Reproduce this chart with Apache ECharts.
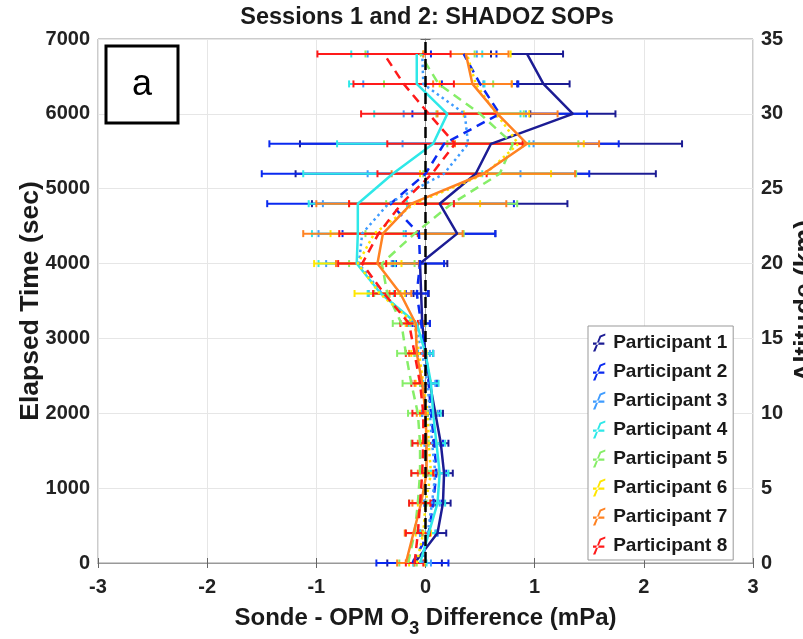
<!DOCTYPE html>
<html><head><meta charset="utf-8">
<script src="https://cdn.jsdelivr.net/npm/echarts@6/dist/echarts.min.js"></script>
<style>html,body{margin:0;padding:0;background:#fff}#c{width:803px;height:639px}</style>
</head><body><div id="c"></div>
<script>
// Elapsed time levels (sec)
const elapsedTime = [0,400,800,1200,1600,2000,2400,2800,3200,3600,4000,4400,4800,5200,5600,6000,6400,6800];
// Sonde - OPM O3 difference (mPa), mean per participant
const p1 = [-0.10,0.11,0.16,0.17,0.14,0.09,0.04,0.00,-0.03,-0.04,-0.05,0.29,0.13,0.46,0.60,1.35,1.08,0.93];
const p2 = [-0.12,0.03,0.07,0.10,0.08,0.05,0.03,0.00,-0.04,-0.08,-0.05,-0.06,-0.32,0.00,0.17,0.68,0.50,0.35];
const p3 = [-0.03,0.02,0.06,0.09,0.06,0.04,0.02,-0.03,-0.10,-0.40,-0.61,-0.58,-0.34,0.17,0.39,0.36,-0.02,-0.03];
const p4 = [-0.05,0.03,0.11,0.13,0.10,0.07,0.05,0.00,-0.08,-0.41,-0.63,-0.62,-0.62,-0.30,0.07,0.20,-0.08,-0.08];
const p5 = [-0.16,-0.10,-0.07,-0.05,-0.05,-0.07,-0.13,-0.18,-0.22,-0.35,-0.40,-0.10,0.24,0.68,0.80,0.50,0.12,-0.05];
const p6 = [-0.08,-0.02,0.00,0.05,0.03,0.02,-0.02,-0.06,-0.10,-0.42,-0.62,-0.47,-0.10,0.55,0.85,0.65,0.46,0.38];
const p7 = [-0.18,-0.11,-0.04,0.01,0.01,0.00,-0.03,-0.08,-0.09,-0.23,-0.44,-0.39,-0.13,0.53,0.93,0.66,0.43,0.37];
const p8 = [-0.10,-0.07,-0.05,-0.03,-0.02,-0.02,-0.05,-0.10,-0.15,-0.38,-0.58,-0.43,-0.22,0.06,0.27,0.03,-0.20,-0.38];
// error bar half widths (mPa)
const p1Err = [0.25,0.08,0.07,0.08,0.07,0.07,0.07,0.07,0.07,0.07,0.25,0.35,1.17,1.65,1.75,0.39,0.24,0.33];
const p2Err = [0.33,0.08,0.08,0.09,0.08,0.08,0.07,0.07,0.08,0.10,0.22,0.70,1.13,1.50,1.60,0.80,0.35,0.30];
const p3Err = [0.08,0.07,0.07,0.08,0.07,0.07,0.07,0.07,0.08,0.12,0.30,0.40,0.60,0.70,0.60,0.56,0.55,0.50];
const p4Err = [0.06,0.07,0.07,0.08,0.08,0.07,0.07,0.07,0.08,0.12,0.35,0.42,0.45,0.82,0.88,0.67,0.62,0.60];
const p5Err = [0.08,0.08,0.08,0.08,0.08,0.09,0.08,0.08,0.08,0.12,0.30,0.45,0.60,0.70,0.60,0.40,0.50,0.50];
const p6Err = [0.07,0.07,0.07,0.07,0.07,0.07,0.07,0.07,0.08,0.23,0.40,0.40,0.60,0.60,0.60,0.30,0.33,0.40];
const p7Err = [0.08,0.08,0.08,0.08,0.08,0.08,0.07,0.07,0.08,0.10,0.38,0.73,0.87,0.84,0.66,0.55,0.36,0.39];
const p8Err = [0.08,0.11,0.10,0.10,0.10,0.10,0.08,0.08,0.08,0.10,0.22,0.36,0.48,0.50,0.62,0.62,0.46,0.61];
const participantNames = ['Participant 1','Participant 2','Participant 3','Participant 4','Participant 5','Participant 6','Participant 7','Participant 8'];
const xTicks = [-3,-2,-1,0,1,2,3];
const timeTicks = [0,1000,2000,3000,4000,5000,6000,7000];
const altitudeTicks = [0,5,10,15,20,25,30,35];

const means = [p1,p2,p3,p4,p5,p6,p7,p8];
const errs = [p1Err,p2Err,p3Err,p4Err,p5Err,p6Err,p7Err,p8Err];
const colors = ['#1c1c94','#0a2af0','#3f9cff','#2ee8e8','#86ee68','#ffe600','#ff8222','#ff1a1a'];
const lineTypes = ['solid',[9,6],[2.5,3.5],'solid',[9,6],[2.5,3.5],'solid',[9,6]];
const FONT = 'Liberation Sans';

function errRender(color){
  return function(params, api){
    const x = api.value(0), y = api.value(1), e = api.value(2);
    const a = api.coord([x - e, y]), b = api.coord([x + e, y]);
    const cap = 3.5, st = {stroke: color, lineWidth: 2};
    return {type:'group', children:[
      {type:'line', shape:{x1:a[0],y1:a[1],x2:b[0],y2:b[1]}, style:st},
      {type:'line', shape:{x1:a[0],y1:a[1]-cap,x2:a[0],y2:a[1]+cap}, style:st},
      {type:'line', shape:{x1:b[0],y1:b[1]-cap,x2:b[0],y2:b[1]+cap}, style:st}
    ]};
  };
}

const series = [];
means.forEach((m, i) => {
  series.push({
    type:'custom', name: participantNames[i] + ' err', renderItem: errRender(colors[i]),
    data: elapsedTime.map((t, k) => [m[k], t, errs[i][k]]),
    encode:{x:0, y:1}, silent:true, z:2
  });
  series.push({
    type:'line', name: participantNames[i], color: colors[i],
    data: elapsedTime.map((t, k) => [m[k], t]),
    showSymbol:false, symbol:'none', animation:false,
    lineStyle:{color: colors[i], width:2.5, type: lineTypes[i]},
    itemStyle:{color: colors[i]}, z:2
  });
});
series.push({
  type:'line', name:'zero', data:[[0,0],[0,7000]], showSymbol:false, symbol:'none',
  lineStyle:{color:'#000', width:2.5, type:[11,6]}, z:3, silent:true
});

const axisLabelStyle = {fontFamily: FONT, fontWeight:'bold', fontSize:20, color:'#222'};
const option = {
  animation:false,
  backgroundColor:'#fff',
  title:{text:'Sessions 1 and 2: SHADOZ SOPs', left:422, top:1, textAlign:'center',
    textStyle:{fontFamily:FONT, fontWeight:'bold', fontSize:23.5, color:'#1a1a1a'}},
  grid:{left:98, right:50, top:39, bottom:76, containLabel:false, outerBoundsMode:'none',
    show:true, borderColor:'#999', borderWidth:1, backgroundColor:'#fff'},
  legend:{
    data: participantNames, orient:'vertical', left:588, top:326,
    itemWidth:18, itemHeight:18, itemGap:10, padding:[7,6,5,5],
    backgroundColor:'#fff', borderColor:'#999', borderWidth:1,
    icon:'path://M3,19 L5.5,19 L9,10 L11.5,4 L16,2 L16,0 L10,2.5 L7,10 Z M3,9.5 L15,9.5 L15,12 L3,12 Z',
    textStyle:{fontFamily:FONT, fontWeight:'bold', fontSize:19, color:'#1a1a1a'}
  },
  xAxis:[{
    type:'value', min:-3, max:3, interval:1,
    name:'Sonde - OPM O{sub|3} Difference (mPa)', nameLocation:'middle', nameGap:35,
    nameTextStyle:{fontFamily:FONT, fontWeight:'bold', fontSize:24, color:'#1a1a1a',
      rich:{sub:{fontFamily:FONT, fontWeight:'bold', fontSize:18, color:'#1a1a1a', padding:[22,0,0,0], verticalAlign:'bottom'}}},
    axisLine:{lineStyle:{color:'#999', width:1}},
    axisTick:{inside:true, length:5, lineStyle:{color:'#666'}},
    axisLabel:Object.assign({margin:14, formatter: v => xTicks.includes(v) ? String(v) : ''}, axisLabelStyle),
    splitLine:{show:true, lineStyle:{color:'#e6e6e6', width:1}}
  },{
    type:'value', min:-3, max:3, interval:1, position:'top',
    axisLine:{lineStyle:{color:'#999'}}, axisTick:{inside:true, length:5, lineStyle:{color:'#666'}},
    axisLabel:{show:false}, splitLine:{show:false}
  }],
  yAxis:[{
    type:'value', min:0, max:7000, interval:1000, position:'left',
    name:'Elapsed Time (sec)', nameLocation:'middle', nameGap:54, nameRotate:90, nameMoveOverlap:false,
    nameTextStyle:{fontFamily:FONT, fontWeight:'bold', fontSize:26.5, color:'#1a1a1a'},
    axisLine:{show:true, lineStyle:{color:'#999'}},
    axisTick:{show:true, inside:true, length:5, lineStyle:{color:'#666'}},
    axisLabel:Object.assign({margin:8, formatter: v => timeTicks.includes(v) ? String(v) : ''}, axisLabelStyle),
    splitLine:{show:true, lineStyle:{color:'#e6e6e6'}}
  },{
    type:'value', min:0, max:35, interval:5, position:'right',
    name:'Altitude (km)', nameLocation:'middle', nameGap:38, nameRotate:90, nameMoveOverlap:false,
    nameTextStyle:{fontFamily:FONT, fontWeight:'bold', fontSize:26.5, color:'#1a1a1a'},
    axisLine:{show:true, lineStyle:{color:'#999'}},
    axisTick:{show:true, inside:true, length:5, lineStyle:{color:'#666'}},
    axisLabel:Object.assign({margin:8, formatter: v => altitudeTicks.includes(v) ? String(v) : ''}, axisLabelStyle),
    splitLine:{show:false}
  }],
  graphic:[
    {type:'rect', x:106, y:46, shape:{width:72, height:77}, style:{fill:'#fff', stroke:'#000', lineWidth:3}, z:100},
    {type:'text', x:142, y:85, style:{text:'a', fontFamily:FONT, fontSize:36, fill:'#000', align:'center', verticalAlign:'middle'}, z:101}
  ],
  series: series
};
const chart = echarts.init(document.getElementById('c'), null, {renderer:'canvas'});
chart.setOption(option);
</script></body></html>
